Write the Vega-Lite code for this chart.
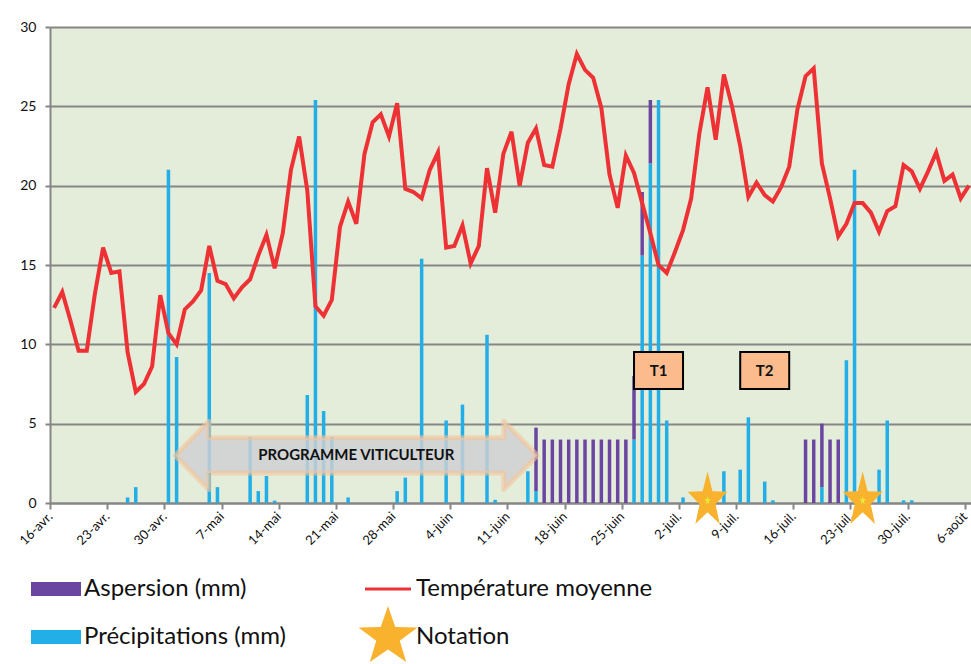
{
  "$schema": "https://vega.github.io/schema/vega-lite/v6.json",
  "width": 923,
  "height": 476,
  "autosize": {"type": "none"},
  "padding": {"left": 50, "top": 27, "right": 0, "bottom": 161},
  "background": "white",
  "config": {
    "font": "Lato",
    "view": {"fill": "#E4EDDA", "stroke": null}
  },
  "datasets": {
    "temp": [
      {"d":"2013-04-16","v":12.3},{"d":"2013-04-17","v":13.3},{"d":"2013-04-18","v":11.5},{"d":"2013-04-19","v":9.6},{"d":"2013-04-20","v":9.6},
      {"d":"2013-04-21","v":13.2},{"d":"2013-04-22","v":16.1},{"d":"2013-04-23","v":14.5},{"d":"2013-04-24","v":14.6},{"d":"2013-04-25","v":9.5},
      {"d":"2013-04-26","v":7.0},{"d":"2013-04-27","v":7.5},{"d":"2013-04-28","v":8.6},{"d":"2013-04-29","v":13.1},{"d":"2013-04-30","v":10.7},
      {"d":"2013-05-01","v":10.0},{"d":"2013-05-02","v":12.2},{"d":"2013-05-03","v":12.7},{"d":"2013-05-04","v":13.4},{"d":"2013-05-05","v":16.2},
      {"d":"2013-05-06","v":14.0},{"d":"2013-05-07","v":13.8},{"d":"2013-05-08","v":12.9},{"d":"2013-05-09","v":13.6},{"d":"2013-05-10","v":14.1},
      {"d":"2013-05-11","v":15.6},{"d":"2013-05-12","v":16.9},{"d":"2013-05-13","v":14.8},{"d":"2013-05-14","v":17.0},{"d":"2013-05-15","v":21.0},
      {"d":"2013-05-16","v":23.1},{"d":"2013-05-17","v":19.7},{"d":"2013-05-18","v":12.4},{"d":"2013-05-19","v":11.8},{"d":"2013-05-20","v":12.8},
      {"d":"2013-05-21","v":17.4},{"d":"2013-05-22","v":19.0},{"d":"2013-05-23","v":17.6},{"d":"2013-05-24","v":22.0},{"d":"2013-05-25","v":24.0},
      {"d":"2013-05-26","v":24.5},{"d":"2013-05-27","v":23.1},{"d":"2013-05-28","v":25.2},{"d":"2013-05-29","v":19.8},{"d":"2013-05-30","v":19.6},
      {"d":"2013-05-31","v":19.2},{"d":"2013-06-01","v":21.0},{"d":"2013-06-02","v":22.1},{"d":"2013-06-03","v":16.1},{"d":"2013-06-04","v":16.2},
      {"d":"2013-06-05","v":17.5},{"d":"2013-06-06","v":15.1},{"d":"2013-06-07","v":16.2},{"d":"2013-06-08","v":21.1},{"d":"2013-06-09","v":18.3},
      {"d":"2013-06-10","v":22.0},{"d":"2013-06-11","v":23.4},{"d":"2013-06-12","v":20.0},{"d":"2013-06-13","v":22.7},{"d":"2013-06-14","v":23.6},
      {"d":"2013-06-15","v":21.3},{"d":"2013-06-16","v":21.2},{"d":"2013-06-17","v":23.6},{"d":"2013-06-18","v":26.4},{"d":"2013-06-19","v":28.3},
      {"d":"2013-06-20","v":27.3},{"d":"2013-06-21","v":26.8},{"d":"2013-06-22","v":24.9},{"d":"2013-06-23","v":20.7},{"d":"2013-06-24","v":18.6},
      {"d":"2013-06-25","v":21.9},{"d":"2013-06-26","v":20.8},{"d":"2013-06-27","v":18.9},{"d":"2013-06-28","v":17.0},{"d":"2013-06-29","v":15.0},
      {"d":"2013-06-30","v":14.5},{"d":"2013-07-01","v":15.8},{"d":"2013-07-02","v":17.2},{"d":"2013-07-03","v":19.2},{"d":"2013-07-04","v":23.3},
      {"d":"2013-07-05","v":26.2},{"d":"2013-07-06","v":22.9},{"d":"2013-07-07","v":27.0},{"d":"2013-07-08","v":25.0},{"d":"2013-07-09","v":22.5},
      {"d":"2013-07-10","v":19.3},{"d":"2013-07-11","v":20.2},{"d":"2013-07-12","v":19.4},{"d":"2013-07-13","v":19.0},{"d":"2013-07-14","v":19.9},
      {"d":"2013-07-15","v":21.2},{"d":"2013-07-16","v":24.8},{"d":"2013-07-17","v":26.9},{"d":"2013-07-18","v":27.4},{"d":"2013-07-19","v":21.4},
      {"d":"2013-07-20","v":19.2},{"d":"2013-07-21","v":16.8},{"d":"2013-07-22","v":17.6},{"d":"2013-07-23","v":18.9},{"d":"2013-07-24","v":18.9},
      {"d":"2013-07-25","v":18.3},{"d":"2013-07-26","v":17.1},{"d":"2013-07-27","v":18.4},{"d":"2013-07-28","v":18.7},{"d":"2013-07-29","v":21.3},
      {"d":"2013-07-30","v":20.9},{"d":"2013-07-31","v":19.8},{"d":"2013-08-01","v":20.9},{"d":"2013-08-02","v":22.1},{"d":"2013-08-03","v":20.3},
      {"d":"2013-08-04","v":20.7},{"d":"2013-08-05","v":19.2},{"d":"2013-08-06","v":20.0}
    ],
    "bars": [
      {"d":"2013-04-25","s":"Précipitations (mm)","v":0.35},
      {"d":"2013-04-26","s":"Précipitations (mm)","v":1.0},
      {"d":"2013-04-30","s":"Précipitations (mm)","v":21.0},
      {"d":"2013-05-01","s":"Précipitations (mm)","v":9.2},
      {"d":"2013-05-05","s":"Précipitations (mm)","v":14.5},
      {"d":"2013-05-06","s":"Précipitations (mm)","v":1.0},
      {"d":"2013-05-10","s":"Précipitations (mm)","v":4.15},
      {"d":"2013-05-11","s":"Précipitations (mm)","v":0.75},
      {"d":"2013-05-12","s":"Précipitations (mm)","v":1.7},
      {"d":"2013-05-13","s":"Précipitations (mm)","v":0.15},
      {"d":"2013-05-17","s":"Précipitations (mm)","v":6.8},
      {"d":"2013-05-18","s":"Précipitations (mm)","v":25.4},
      {"d":"2013-05-19","s":"Précipitations (mm)","v":5.8},
      {"d":"2013-05-20","s":"Précipitations (mm)","v":4.15},
      {"d":"2013-05-22","s":"Précipitations (mm)","v":0.35},
      {"d":"2013-05-28","s":"Précipitations (mm)","v":0.75},
      {"d":"2013-05-29","s":"Précipitations (mm)","v":1.6},
      {"d":"2013-05-31","s":"Précipitations (mm)","v":15.4},
      {"d":"2013-06-03","s":"Précipitations (mm)","v":5.2},
      {"d":"2013-06-05","s":"Précipitations (mm)","v":6.2},
      {"d":"2013-06-08","s":"Précipitations (mm)","v":10.6},
      {"d":"2013-06-09","s":"Précipitations (mm)","v":0.2},
      {"d":"2013-06-13","s":"Précipitations (mm)","v":2.0},
      {"d":"2013-06-14","s":"Précipitations (mm)","v":0.75},
      {"d":"2013-06-26","s":"Précipitations (mm)","v":4.0},
      {"d":"2013-06-27","s":"Précipitations (mm)","v":15.6},
      {"d":"2013-06-28","s":"Précipitations (mm)","v":21.4},
      {"d":"2013-06-29","s":"Précipitations (mm)","v":25.4},
      {"d":"2013-06-30","s":"Précipitations (mm)","v":5.2},
      {"d":"2013-07-02","s":"Précipitations (mm)","v":0.35},
      {"d":"2013-07-07","s":"Précipitations (mm)","v":2.0},
      {"d":"2013-07-09","s":"Précipitations (mm)","v":2.1},
      {"d":"2013-07-10","s":"Précipitations (mm)","v":5.4},
      {"d":"2013-07-12","s":"Précipitations (mm)","v":1.35},
      {"d":"2013-07-13","s":"Précipitations (mm)","v":0.17},
      {"d":"2013-07-19","s":"Précipitations (mm)","v":1.0},
      {"d":"2013-07-22","s":"Précipitations (mm)","v":9.0},
      {"d":"2013-07-23","s":"Précipitations (mm)","v":21.0},
      {"d":"2013-07-26","s":"Précipitations (mm)","v":2.1},
      {"d":"2013-07-27","s":"Précipitations (mm)","v":5.2},
      {"d":"2013-07-29","s":"Précipitations (mm)","v":0.17},
      {"d":"2013-07-30","s":"Précipitations (mm)","v":0.17},
      {"d":"2013-06-14","s":"Aspersion (mm)","v":4.0},
      {"d":"2013-06-15","s":"Aspersion (mm)","v":4.0},
      {"d":"2013-06-16","s":"Aspersion (mm)","v":4.0},
      {"d":"2013-06-17","s":"Aspersion (mm)","v":4.0},
      {"d":"2013-06-18","s":"Aspersion (mm)","v":4.0},
      {"d":"2013-06-19","s":"Aspersion (mm)","v":4.0},
      {"d":"2013-06-20","s":"Aspersion (mm)","v":4.0},
      {"d":"2013-06-21","s":"Aspersion (mm)","v":4.0},
      {"d":"2013-06-22","s":"Aspersion (mm)","v":4.0},
      {"d":"2013-06-23","s":"Aspersion (mm)","v":4.0},
      {"d":"2013-06-24","s":"Aspersion (mm)","v":4.0},
      {"d":"2013-06-25","s":"Aspersion (mm)","v":4.0},
      {"d":"2013-06-26","s":"Aspersion (mm)","v":4.0},
      {"d":"2013-06-27","s":"Aspersion (mm)","v":4.0},
      {"d":"2013-06-28","s":"Aspersion (mm)","v":4.0},
      {"d":"2013-07-17","s":"Aspersion (mm)","v":4.0},
      {"d":"2013-07-18","s":"Aspersion (mm)","v":4.0},
      {"d":"2013-07-19","s":"Aspersion (mm)","v":4.0},
      {"d":"2013-07-20","s":"Aspersion (mm)","v":4.0},
      {"d":"2013-07-21","s":"Aspersion (mm)","v":4.0}
    ],
    "notes": [
      {"d":"2013-07-05","v":0.15},
      {"d":"2013-07-24","v":0.15}
    ],
    "boxes": [
      {"d":"2013-06-29","v":8.35,"label":"T1"},
      {"d":"2013-07-12","v":8.35,"label":"T2"}
    ],
    "arrow": [
      {"d":"2013-05-23","v":3.0,"label":"PROGRAMME VITICULTEUR"}
    ]
  },
  "encoding": {
    "x": {
      "field": "d", "type": "temporal", "timeUnit": "utcyearmonthdate", "bandPosition": 0.5, "title": null,
      "scale": {"type": "utc", "nice": false, "domain": [{"year":2013,"month":4,"date":16,"utc":true},{"year":2013,"month":8,"date":7,"utc":true}]},
      "axis": {
        "values": [
          {"year":2013,"month":4,"date":16,"utc":true},{"year":2013,"month":4,"date":23,"utc":true},{"year":2013,"month":4,"date":30,"utc":true},
          {"year":2013,"month":5,"date":7,"utc":true},{"year":2013,"month":5,"date":14,"utc":true},{"year":2013,"month":5,"date":21,"utc":true},
          {"year":2013,"month":5,"date":28,"utc":true},{"year":2013,"month":6,"date":4,"utc":true},{"year":2013,"month":6,"date":11,"utc":true},
          {"year":2013,"month":6,"date":18,"utc":true},{"year":2013,"month":6,"date":25,"utc":true},{"year":2013,"month":7,"date":2,"utc":true},
          {"year":2013,"month":7,"date":9,"utc":true},{"year":2013,"month":7,"date":16,"utc":true},{"year":2013,"month":7,"date":23,"utc":true},
          {"year":2013,"month":7,"date":30,"utc":true},{"year":2013,"month":8,"date":6,"utc":true}
        ],
        "labelExpr": "utcdate(datum.value) + '-' + ['janv.','févr.','mars','avr.','mai','juin','juil.','août','sept.','oct.','nov.','déc.'][utcmonth(datum.value)]",
        "labelAngle": -45, "labelAlign": "right", "labelBaseline": "middle", "labelFontSize": 13, "labelColor": "#111111",
        "labelPadding": 5, "labelOverlap": false, "labelBound": false, "labelFlush": false,
        "tickSize": 6, "tickColor": "#868686", "tickWidth": 2, "domainColor": "#868686", "domainWidth": 2, "grid": false
      }
    },
    "y": {
      "field": "v", "type": "quantitative", "title": null,
      "scale": {"domain": [0, 30], "nice": false},
      "axis": {
        "values": [0,5,10,15,20,25,30], "labelFontSize": 14, "labelColor": "#111111", "labelPadding": 9,
        "tickSize": 5, "tickColor": "#868686", "tickWidth": 2, "domainColor": "#868686", "domainWidth": 2,
        "grid": true, "gridColor": "#868686", "gridWidth": 2
      }
    }
  },
  "layer": [
    {
      "data": {"name": "bars"},
      "mark": {"type": "bar", "width": 3.5},
      "encoding": {
        "color": {
          "field": "s", "type": "nominal",
          "scale": {"domain": ["Aspersion (mm)", "Précipitations (mm)", "Température moyenne", "Notation"], "range": ["#6B46A0", "#22AEE6", "#EE3135", "#F8B22E"]},
          "legend": {
            "title": null, "orient": "none", "legendX": -19, "legendY": 537, "columns": 2, "columnPadding": 72, "rowPadding": 5,
            "symbolSize": 1600, "labelOffset": 3, "symbolOffset": 0, "labelFontSize": 24, "labelColor": "#111111", "labelLimit": 400, "padding": 0,
            "encode": {
              "symbols": {
                "update": {
                  "fill": {"scale": "color", "field": "value"},
                  "stroke": {"value": "transparent"},
                  "strokeWidth": {"value": 0},
                  "opacity": {"value": 1},
                  "shape": {"signal": "datum.value === 'Notation' ? 'M0,-1L0.235,-0.324L0.951,-0.309L0.380,0.124L0.588,0.809L0,0.4L-0.588,0.809L-0.380,0.124L-0.951,-0.309L-0.235,-0.324Z' : datum.value === 'Température moyenne' ? 'M-1,-0.06L1,-0.06L1,0.06L-1,0.06Z' : 'M-1,-0.28L1,-0.28L1,0.28L-1,0.28Z'"},
                  "size": {"signal": "datum.value === 'Notation' ? 3844 : datum.value === 'Température moyenne' ? 2116 : 2500"}
                }
              }
            }
          }
        },
        "order": {"field": "s", "sort": "descending"}
      }
    },
    {
      "data": {"name": "arrow"},
      "mark": {"type": "point", "filled": true, "shape": "M-1,0L-0.815,-0.188L-0.815,-0.097L0.815,-0.097L0.815,-0.188L1,0L0.815,0.188L0.815,0.097L-0.815,0.097L-0.815,0.188Z", "size": 131044, "fill": "#CFCFD3", "fillOpacity": 0.82, "stroke": "#F4C49A", "strokeWidth": 5, "strokeOpacity": 0.6, "strokeJoin": "round", "opacity": 1}
    },
    {
      "data": {"name": "arrow"},
      "mark": {"type": "text", "fontWeight": "bold", "fontSize": 15, "color": "#111111", "align": "center", "baseline": "middle"},
      "encoding": {"text": {"field": "label"}}
    },
    {
      "data": {"name": "temp"},
      "mark": {"type": "line", "color": "#EE3135", "strokeWidth": 4, "strokeJoin": "miter"}
    },
    {
      "data": {"name": "notes"},
      "mark": {"type": "point", "filled": true, "shape": "M0,-1L0.169,-0.324L0.685,-0.309L0.274,0.124L0.423,0.809L0,0.4L-0.423,0.809L-0.274,0.124L-0.685,-0.309L-0.169,-0.324Z", "size": 3364, "color": "#F8B22E", "opacity": 1}
    },
    {
      "data": {"name": "notes"},
      "mark": {"type": "point", "filled": true, "shape": "M0,-1L0.169,-0.324L0.685,-0.309L0.274,0.124L0.423,0.809L0,0.4L-0.423,0.809L-0.274,0.124L-0.685,-0.309L-0.169,-0.324Z", "size": 90, "color": "#E8E83A", "opacity": 1}
    },
    {
      "data": {"name": "boxes"},
      "mark": {"type": "point", "filled": true, "shape": "M-1,-0.755L1,-0.755L1,0.755L-1,0.755Z", "size": 2401, "fill": "#FBBB8D", "stroke": "#000000", "strokeWidth": 2, "opacity": 1}
    },
    {
      "data": {"name": "boxes"},
      "mark": {"type": "text", "fontWeight": "bold", "fontSize": 15, "color": "#111111", "align": "center", "baseline": "middle"},
      "encoding": {"text": {"field": "label"}}
    }
  ]
}
